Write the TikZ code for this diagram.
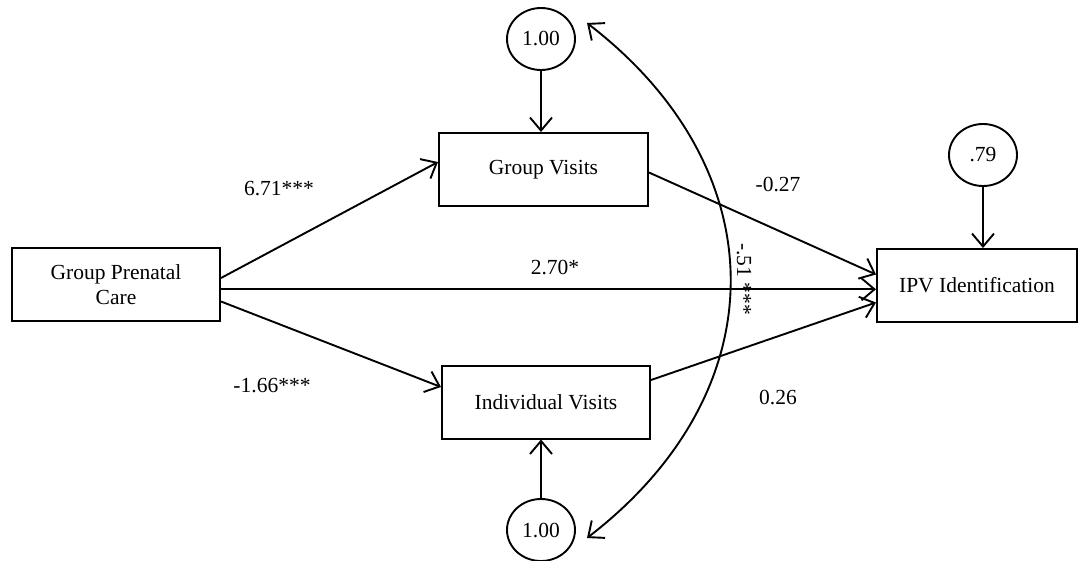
\documentclass[tikz,border=0pt]{standalone}
\usepackage{fontspec}
\setmainfont{Liberation Serif}
\usetikzlibrary{arrows.meta,shapes.geometric}
\begin{document}
\begin{tikzpicture}[x=1pt,y=-1pt,
  every node/.style={font=\fontsize{21.5}{25}\selectfont},
  boxnode/.style={draw,line width=2pt,minimum width=#1,minimum height=73pt,inner sep=0pt,align=center},
  errnode/.style={draw,ellipse,line width=1.9pt,minimum width=68pt,minimum height=62pt,inner sep=0pt},
  tip/.style={Straight Barb[length=13pt,width=22pt,line width=1.9pt]},
  arr/.style={line width=1.9pt,-{Straight Barb[length=13pt,width=22pt,line width=1.9pt]}},
  lbl/.style={inner sep=0pt}]
\useasboundingbox (0,0) rectangle (1078,560);
\node[boxnode=208pt] (gpc) at (116,284.5) {Group Prenatal\\Care};
\node[boxnode=209pt] (gv) at (543.5,169.5) {Group Visits};
\node[boxnode=208pt] (iv) at (546,402) {Individual Visits};
\node[boxnode=200pt] (ipv) at (977,285.5) {IPV Identification};
\node[errnode] (e1) at (541,39) {1.00};
\node[errnode] (e2) at (541,530) {1.00};
\node[errnode] (e3) at (983,155) {.79};
\draw[arr] (e1.south) -- (e1.south |- gv.north);
\draw[arr] (e2.north) -- (e2.north |- iv.south);
\draw[arr] (e3.south) -- (e3.south |- ipv.north);
\draw[arr] ([yshift=6.5pt]gpc.east) -- ([yshift=7.5pt]gv.west);
\draw[arr] ([yshift=-4.8pt]gpc.east) -- ([yshift=-3.8pt]ipv.west);
\draw[arr] ([yshift=-17pt]gpc.east) -- ([yshift=15pt]iv.west);
\draw[arr] ([yshift=-3pt]gv.east) -- ([yshift=11pt]ipv.west);
\draw[arr] ([yshift=22pt]iv.east) -- ([yshift=-17pt]ipv.west);
\coordinate (ct) at (587,23);
\coordinate (cb) at (587,538);
\draw[line width=1.9pt,{Straight Barb[length=13pt,width=22pt,line width=1.9pt]}-{Straight Barb[length=13pt,width=22pt,line width=1.9pt]}]
  (ct) .. controls (778,170) and (778,391) .. (cb);
\node[lbl] (l1) at (279,189) {6.71***};
\node[lbl] (l2) at (555,267) {2.70*};
\node[lbl] (l3) at (272,386) {-1.66***};
\node[lbl] (l4) at (778,184) {-0.27};
\node[lbl] (l5) at (778,397) {0.26};
\node[lbl,rotate=-90] (l6) at (744,279) {-.51 ***};
\end{tikzpicture}
\end{document}
